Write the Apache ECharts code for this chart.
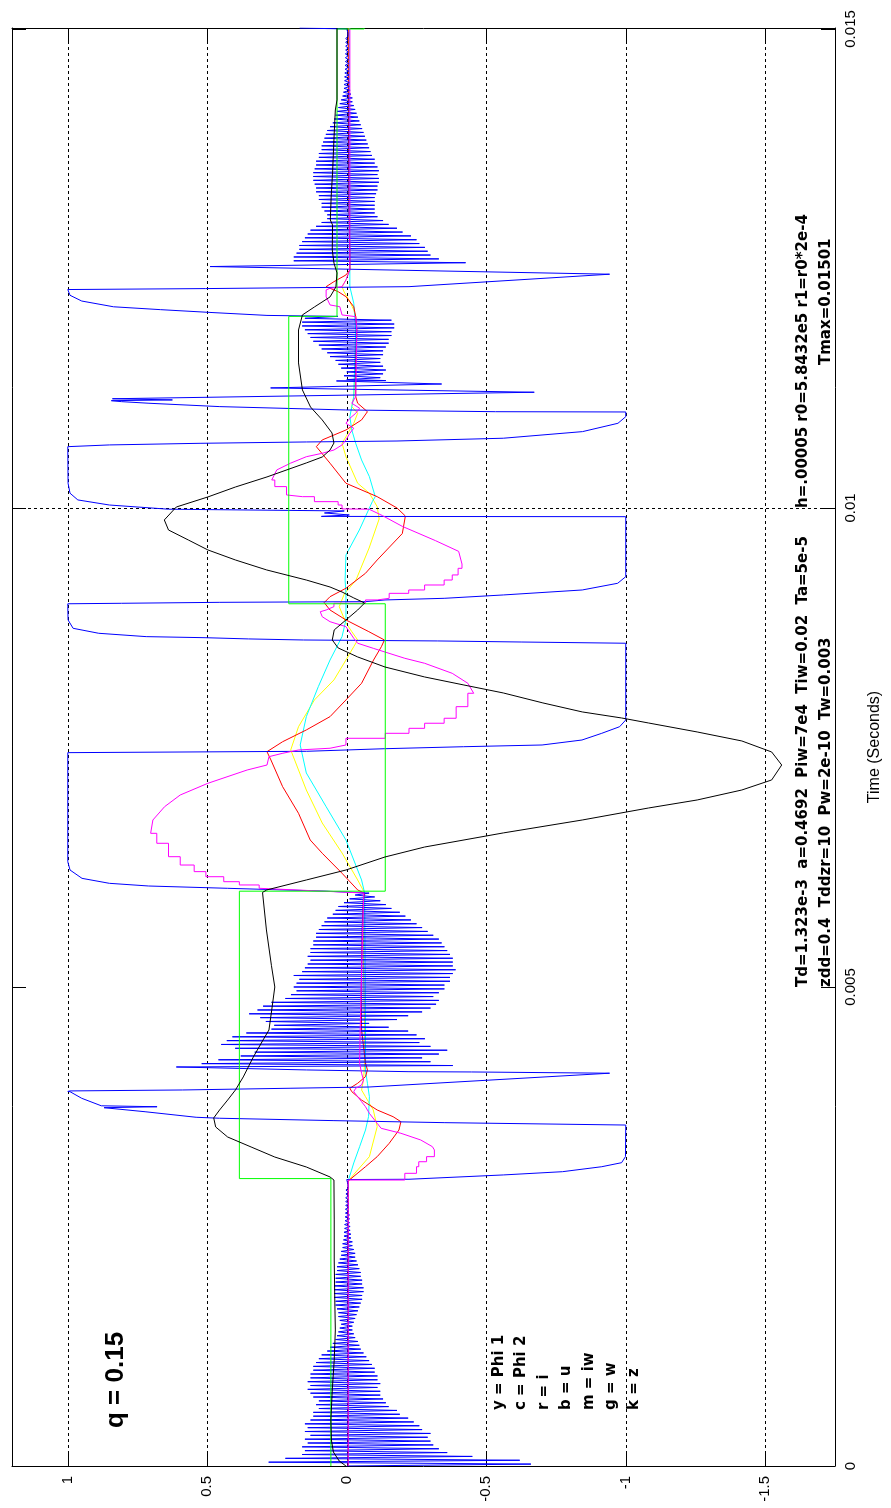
<!DOCTYPE html>
<html>
<head>
<meta charset="utf-8">
<title>Controller response, q = 0.15</title>
<script src="https://cdn.jsdelivr.net/npm/echarts@6/dist/echarts.min.js"></script>
<style>
  html, body { margin: 0; padding: 0; background: #fff; }
  #chart { width: 891px; height: 1508px; }
</style>
</head>
<body>
<div id="chart"></div>
<script>
// Time values below are in milliseconds; each pair is [time_ms, value].
const MS = 1e-3;

// tick labels
const valueTicks = [1, 0.5, 0, -0.5, -1, -1.5];
const timeTicks = [0, 0.005, 0.01, 0.015];

// y = Phi 1
const phi1 = [[0,-0.005],[2.975,-0.005],[3.09,-0.039],[3.229,-0.081],[3.542,-0.109],[3.716,-0.095],[3.855,-0.067],[3.925,-0.053],[4.029,-0.06],[4.207,-0.064],[4.551,-0.064],[5.386,-0.059],[5.981,-0.064],[6.117,-0.039],[6.399,0.017],[6.712,0.088],[7.056,0.145],[7.37,0.187],[7.474,0.201],[7.717,0.173],[7.996,0.116],[8.205,0.046],[8.413,0.003],[8.552,-0.025],[8.622,-0.039],[8.709,-0.018],[8.8,0.003],[8.97,0.027],[9.102,0.009],[9.248,-0.033],[9.582,-0.08],[9.885,-0.116],[10.014,-0.109],[10.154,-0.081],[10.258,-0.039],[10.535,0.003],[10.675,0.017],[10.744,0.003],[10.884,-0.025],[10.989,-0.039],[11.058,-0.018],[11.162,-0.025],[11.579,-0.032],[11.997,-0.032],[12.067,-0.025],[12.154,-0.011],[12.258,0.01],[12.31,0.017],[12.38,0.003],[12.484,-0.011],[13.737,-0.009],[15.01,-0.007]];

// c = Phi 2
const phi2 = [[0,-0.005],[2.975,-0.005],[3.163,-0.025],[3.333,-0.046],[3.507,-0.067],[3.646,-0.078],[3.855,-0.081],[3.995,-0.074],[4.134,-0.067],[4.551,-0.067],[5.981,-0.064],[6.117,-0.053],[6.534,0.003],[6.882,0.074],[7.234,0.145],[7.526,0.167],[7.822,0.145],[8.135,0.102],[8.413,0.06],[8.657,0.017],[8.831,0.003],[9.109,0.003],[9.248,0.006],[9.509,0.003],[9.77,-0.045],[10.069,-0.092],[10.118,-0.102],[10.327,-0.081],[10.501,-0.053],[10.675,-0.032],[10.814,-0.018],[10.953,-0.011],[11.162,-0.025],[11.858,-0.032],[12.137,-0.025],[12.31,-0.011],[12.557,-0.011],[15.01,-0.009]];

// r = i
const currentI = [[0,-0.005],[2.975,-0.005],[2.985,-0.008],[3.124,-0.067],[3.229,-0.109],[3.368,-0.152],[3.507,-0.187],[3.594,-0.194],[3.646,-0.166],[3.716,-0.109],[3.82,-0.053],[3.907,-0.018],[3.943,-0.011],[3.995,-0.039],[4.064,-0.067],[4.134,-0.074],[4.207,-0.067],[4.551,-0.053],[4.969,-0.052],[5.595,-0.055],[5.908,-0.059],[5.978,-0.064],[6.013,-0.039],[6.187,0.017],[6.396,0.088],[6.534,0.131],[6.813,0.173],[7.091,0.23],[7.37,0.272],[7.456,0.286],[7.56,0.23],[7.683,0.145],[7.822,0.06],[7.996,0.003],[8.17,-0.053],[8.413,-0.096],[8.552,-0.124],[8.622,-0.135],[8.709,-0.079],[8.831,0.003],[8.935,0.06],[9.012,0.081],[9.074,0.06],[9.162,0.003],[9.318,-0.067],[9.457,-0.109],[9.733,-0.199],[9.916,-0.21],[10.0,-0.18],[10.118,-0.109],[10.258,0.003],[10.467,0.06],[10.64,0.109],[10.71,0.088],[10.814,0.003],[10.919,-0.053],[11.005,-0.074],[11.093,-0.039],[11.162,-0.032],[11.514,-0.032],[11.858,-0.036],[11.997,-0.032],[12.101,-0.025],[12.206,0.003],[12.258,0.031],[12.31,0.074],[12.362,0.046],[12.432,0.003],[12.484,-0.011],[12.623,-0.011],[13.215,-0.007],[15.01,-0.005]];

// b = u : oscillation bursts (sampled every U_STEP ms) and rail switching
const U_STEP = 0.02;
const uIdle = { t0: 0, v: [
  0,-0.66,0.28,-0.62,0.22,-0.45,0.16,-0.36,0.15,-0.33,
  0.16,-0.31,0.14,-0.30,0.15,-0.29,0.13,-0.30,0.15,-0.27,
  0.14,-0.26,0.15,-0.24,0.13,-0.22,0.12,-0.19,0.12,-0.18,
  0.10,-0.15,0.11,-0.14,0.10,-0.13,0.12,-0.12,0.13,-0.12,
  0.14,-0.11,0.13,-0.12,0.14,-0.11,0.13,-0.11,0.13,-0.10,
  0.12,-0.10,0.12,-0.09,0.11,-0.08,0.10,-0.07,0.09,-0.06,
  0.07,-0.05,0.06,-0.045,0.05,-0.04,0.04,-0.03,0.035,-0.025,
  0.03,-0.02,0.025,-0.02,0.02,-0.025,0.025,-0.03,0.03,-0.035,
  0.03,-0.04,0.035,-0.045,0.04,-0.05,0.04,-0.055,0.045,-0.055,
  0.045,-0.06,0.045,-0.06,0.045,-0.055,0.04,-0.055,0.04,-0.05,
  0.04,-0.05,0.035,-0.045,0.035,-0.04,0.03,-0.035,0.025,-0.03,
  0.02,-0.03,0.02,-0.025,0.015,-0.02,0.015,-0.02,0.012,-0.015,
  0.01,-0.015,0.01,-0.012,0.008,-0.012,0.008,-0.01,0.006,-0.01,
  0.006,-0.01,0.005,-0.008,0.005,-0.008,0.004,-0.008,0.004,-0.006,
  0.004,-0.006,0.003,-0.006,0.003,-0.005,0.002,-0.004,0
] };
const uSwitch1 = [[2.99,0],[2.993,-0.223],[3.038,-0.561],[3.072,-0.773],[3.124,-0.914],[3.166,-0.985],[3.229,-0.999],[3.559,-1.0],[3.567,-1.0],[3.584,-0.349],[3.605,0.046],[3.63,0.456],[3.64,0.54],[3.698,0.723],[3.74,0.87],[3.75,0.68],[3.76,0.88],[3.838,0.95],[3.907,0.992],[3.91,1.0],[3.915,0.992],[3.925,0.589],[3.943,0.2],[3.956,-0.08],[4.1,-0.942],[4.113,-0.447],[4.116,-0.223],[4.134,0.144],[4.165,0.611]];
const uBurst1 = { t0: 4.18, v: [
  -0.38,0.52,-0.30,0.46,-0.27,0.38,-0.33,0.33,-0.36,0.40,
  -0.30,0.45,-0.26,0.43,-0.28,0.41,-0.25,0.36,-0.22,0.27,
  -0.15,0.26,-0.08,0.29,-0.18,0.31,-0.22,0.35,-0.27,0.32,
  -0.30,0.30,-0.32,0.27,-0.33,0.22,-0.31,0.20,-0.33,0.18,
  -0.35,0.19,-0.35,0.18,-0.37,0.17,-0.37,0.19,-0.38,0.16,
  -0.39,0.15,-0.38,0.14,-0.38,0.13,-0.38,0.14,-0.37,0.13,
  -0.36,0.13,-0.35,0.12,-0.34,0.12,-0.33,0.11,-0.31,0.11,
  -0.29,0.10,-0.27,0.09,-0.25,0.08,-0.23,0.07,-0.21,0.05,
  -0.19,0.04,-0.16,0.03,-0.14,0.01,-0.12,-0.01,-0.10,-0.03,
  -0.08
] };
const uSwitch2 = [[6.0,0.074],[6.03,0.427],[6.054,0.71],[6.082,0.851],[6.134,0.949],[6.221,0.992],[6.308,1.0],[7.446,1.0],[7.46,0.144],[7.487,-0.134],[7.508,-0.419],[7.526,-0.7],[7.578,-0.843],[7.648,-0.914],[7.717,-0.978],[7.787,-1.0],[8.588,-1.0],[8.601,-0.625],[8.612,-0.326],[8.622,0.155],[8.633,0.352],[8.646,0.508],[8.657,0.719],[8.692,0.889],[8.744,0.981],[8.831,0.999],[8.97,1.0],[9.0,1.0],[9.005,0.808],[9.015,0.455],[9.022,-0.067],[9.04,-0.137],[9.057,-0.349],[9.092,-0.561],[9.144,-0.844],[9.214,-0.971],[9.283,-1.0],[9.909,-1.0],[9.912,0.091],[9.927,-0.009],[9.948,0.08],[9.969,0.009],[9.987,0.639],[10.031,0.851],[10.084,0.964],[10.154,0.992],[10.258,0.999],[10.64,1.0],[10.658,0.851],[10.675,0.526],[10.689,0.145],[10.699,-0.18],[10.728,-0.561],[10.797,-0.845],[10.884,-0.972],[10.953,-1.0],[11.002,-1.0],[11.005,-0.533],[11.023,0.004],[11.058,0.455],[11.093,0.709],[11.11,0.808],[11.12,0.844],[11.128,0.625],[11.14,0.84],[11.208,-0.672],[11.253,0.273],[11.294,-0.34],[11.326,0.037],[11.33,-0.14]];
const uBurst2 = { t0: 11.34, v: [
  0.0,-0.12,0.01,-0.13,0.0,-0.14,0.02,-0.13,0.03,-0.12,
  0.04,-0.12,0.06,-0.13,0.07,-0.13,0.09,-0.14,0.10,-0.15,
  0.12,-0.15,0.13,-0.16,0.14,-0.16,0.15,-0.17,0.16,-0.17,
  0.16,-0.16,0.15
] };
const uSwitch3 = [[12.0,0.032],[12.01,0.286],[12.04,0.483],[12.07,0.667],[12.1,0.836],[12.16,0.95],[12.22,0.992],[12.28,1.0],[12.29,0.507],[12.31,-0.223],[12.44,-0.942],[12.52,0.49],[12.56,-0.426]];
const uBurst3 = { t0: 12.58, v: [
  0.19,-0.33,0.19,-0.30,0.18,-0.29,0.17,-0.28,0.17,-0.26,
  0.16,-0.25,0.15,-0.23,0.14,-0.20,0.13,-0.18,0.11,-0.15,
  0.09,-0.13,0.07,-0.11,0.07,-0.10,0.08,-0.10,0.09,-0.10,
  0.09,-0.10,0.10,-0.10,0.10,-0.105,0.11,-0.11,0.11,-0.11,
  0.115,-0.115,0.12,-0.115,0.12,-0.11,0.12,-0.115,0.115,-0.11,
  0.11,-0.10,0.11,-0.10,0.10,-0.09,0.10,-0.085,0.09,-0.08,
  0.09,-0.075,0.085,-0.07,0.08,-0.065,0.075,-0.06,0.07,-0.055,
  0.06,-0.05,0.05,-0.045,0.045,-0.04,0.04,-0.035,0.035,-0.03,
  0.03,-0.025,0.025,-0.02,0.02,-0.02,0.015,-0.015,0.012,-0.012,
  0.01,-0.01,0.01,-0.01,0.008,-0.008,0.008,-0.008,0.007,-0.007,
  0.006,-0.006,0.006,-0.006,0.005,-0.006,0.005,-0.005,0.005,-0.005,
  0.004,-0.005,0.004,-0.005,0.004,-0.004,0.004,-0.004,0.003,-0.004,
  0.003,0
] };
const uEnd = [[15.01,0.169]];

// m = iw
const currentIw = [[0,-0.005],[2.985,-0.005],[2.985,-0.208],[3.055,-0.25],[3.124,-0.258],[3.176,-0.286],[3.229,-0.314],[3.299,-0.321],[3.333,-0.307],[3.403,-0.265],[3.473,-0.194],[3.525,-0.123],[3.577,-0.109],[3.681,-0.081],[3.751,-0.067],[3.803,-0.053],[3.855,-0.039],[3.907,-0.025],[3.943,-0.032],[3.977,-0.053],[4.029,-0.06],[4.099,-0.053],[4.207,-0.046],[4.551,-0.048],[5.386,-0.055],[5.981,-0.061],[6.0,-0.064],[6.03,0.314],[6.065,0.385],[6.099,0.441],[6.151,0.505],[6.204,0.547],[6.273,0.597],[6.36,0.639],[6.5,0.681],[6.604,0.703],[6.743,0.695],[6.882,0.653],[7.004,0.597],[7.126,0.498],[7.265,0.357],[7.317,0.286],[7.404,0.279],[7.44,0.229],[7.474,0.173],[7.492,0.06],[7.526,0.003],[7.596,-0.138],[7.648,-0.223],[7.7,-0.279],[7.753,-0.349],[7.805,-0.392],[7.926,-0.434],[8.066,-0.455],[8.17,-0.434],[8.274,-0.378],[8.379,-0.279],[8.431,-0.208],[8.535,-0.095],[8.588,-0.039],[8.64,-0.025],[8.761,0.003],[8.813,0.06],[8.865,0.088],[8.917,0.095],[8.935,0.074],[8.97,0.046],[9.005,-0.067],[9.04,-0.109],[9.057,-0.152],[9.109,-0.222],[9.144,-0.279],[9.196,-0.349],[9.248,-0.378],[9.301,-0.399],[9.37,-0.413],[9.415,-0.419],[9.547,-0.401],[9.659,-0.318],[9.808,-0.199],[9.92,-0.128],[9.987,-0.08],[9.99,0.017],[10.031,0.031],[10.066,0.116],[10.118,0.159],[10.136,0.216],[10.223,0.258],[10.292,0.269],[10.397,0.251],[10.467,0.202],[10.535,0.145],[10.571,0.088],[10.605,0.046],[10.658,0.017],[10.71,0.003],[10.78,-0.011],[10.832,-0.025],[10.884,0.003],[10.936,-0.011],[10.988,-0.032],[11.041,-0.046],[11.093,-0.018],[11.162,-0.032],[11.858,-0.036],[11.997,-0.032],[12.015,0.017],[12.101,0.025],[12.119,0.06],[12.206,0.074],[12.276,0.074],[12.293,0.06],[12.31,0.017],[12.38,0.003],[12.484,-0.011],[15.01,-0.011]];
// time windows (ms) where iw is drawn as a held staircase
const iwHeldSpans = [[2.985,3.3],[6.03,6.61],[7.526,8.07],[8.97,9.42],[9.99,10.3]];

// g = w (step reference)
const refW = [[0,0.057],[3.0,0.057],[3.0,0.385],[6.0,0.385],[6.0,-0.138],[9.0,-0.138],[9.0,0.208],[12.0,0.208],[12.0,0.035],[15.0,0.035],[15.0,-0.062],[15.01,-0.062]];

// k = z
const stateZ = [[0,0.003],[0.052,0.027],[0.146,0.048],[0.271,0.055],[0.48,0.057],[0.793,0.052],[1.106,0.045],[1.42,0.041],[1.733,0.043],[2.15,0.045],[2.568,0.045],[2.985,0.046],[3.017,0.06],[3.121,0.145],[3.225,0.258],[3.33,0.343],[3.434,0.427],[3.539,0.47],[3.633,0.477],[3.716,0.456],[3.82,0.427],[3.925,0.399],[4.061,0.371],[4.269,0.335],[4.447,0.3],[4.551,0.279],[4.76,0.269],[5.0,0.258],[5.222,0.27],[5.595,0.288],[5.987,0.302],[6.013,0.287],[6.117,0.145],[6.221,0.003],[6.357,-0.137],[6.461,-0.279],[6.608,-0.561],[6.743,-0.844],[6.868,-1.081],[6.952,-1.256],[7.056,-1.416],[7.161,-1.523],[7.317,-1.559],[7.453,-1.523],[7.568,-1.416],[7.662,-1.256],[7.756,-1.081],[7.808,-0.985],[7.871,-0.844],[7.965,-0.703],[8.069,-0.561],[8.152,-0.42],[8.236,-0.279],[8.34,-0.137],[8.445,-0.039],[8.539,0.031],[8.622,0.052],[8.727,0.045],[8.831,0.003],[8.935,-0.039],[9.008,-0.064],[9.061,-0.025],[9.123,0.017],[9.175,0.06],[9.248,0.145],[9.353,0.287],[9.457,0.399],[9.562,0.498],[9.666,0.568],[9.77,0.639],[9.875,0.654],[10.01,0.611],[10.115,0.498],[10.219,0.399],[10.324,0.286],[10.47,0.145],[10.532,0.088],[10.605,0.06],[10.678,0.046],[10.783,0.053],[10.919,0.088],[11.054,0.13],[11.232,0.159],[11.514,0.173],[11.858,0.173],[12.015,0.159],[12.098,0.116],[12.203,0.06],[12.307,0.039],[12.453,0.035],[12.557,0.046],[12.693,0.052],[12.954,0.051],[13.006,0.059],[13.246,0.056],[13.497,0.051],[13.914,0.045],[14.154,0.041],[14.259,0.035],[15.01,0.035]];

const legendLines = ['y = Phi 1', 'c = Phi 2', 'r = i', 'b = u', 'm = iw', 'g = w', 'k = z'];
const paramLine1 = 'Td=1.323e-3  a=0.4692  Piw=7e4  Tiw=0.02  Ta=5e-5';
const paramLine2 = 'zdd=0.4  Tddzr=10  Pw=2e-10  Tw=0.003';
const stepLine1 = 'h=.00005 r0=5.8432e5 r1=r0*2e-4';
const stepLine2 = 'Tmax=0.01501';
const caseLabel = 'q = 0.15';

// [time_ms, value] -> [value, time_s] (value runs across, time runs up)
const toXY = arr => arr.map(([t, v]) => [v, t * MS]);

// expand a burst of evenly spaced samples into [time_ms, value] pairs
const sampled = b => b.v.map((v, i) => [b.t0 + i * U_STEP, v]);

// staircase rendering inside the given windows: a value is kept until the next point
function heldWithin(points, spans) {
  const inSpan = (a, b) => spans.some(([s, e]) => a >= s && b <= e);
  const out = [];
  points.forEach(([t, v], i) => {
    out.push([t, v]);
    const next = points[i + 1];
    if (next && next[0] > t && inSpan(t, next[0])) out.push([next[0], v]);
  });
  return out;
}

const controlU = [].concat(sampled(uIdle), uSwitch1, sampled(uBurst1), uSwitch2,
                           sampled(uBurst2), uSwitch3, sampled(uBurst3), uEnd);

const chart = echarts.init(document.getElementById('chart'), null, { renderer: 'canvas' });

const V_MIN = -1.75, V_MAX = 1.2, T_MIN = 0, T_MAX = 0.01501;
const axisFont = { fontFamily: '"Liberation Sans", Arial, sans-serif', fontSize: 15, color: '#000' };
const nameFont = { fontFamily: '"Liberation Sans", Arial, sans-serif', fontSize: 16, color: '#000' };
const textFont = '"DejaVu Sans", "Liberation Sans", sans-serif';

function curve(name, data, color, z) {
  return {
    name, type: 'line', data: toXY(data), showSymbol: false, symbol: 'none',
    lineStyle: { color, width: 1 }, z, silent: true, animation: false
  };
}

function rotText(x, y, text, font) {
  return {
    type: 'text', x, y, rotation: Math.PI / 2, silent: true,
    style: { text, font, fill: '#000', align: 'left', verticalAlign: 'middle',
             textAlign: 'left', textVerticalAlign: 'middle' }
  };
}

const graphics = [
  rotText(116, 1428, caseLabel, 'bold 26px "Liberation Sans", Arial, sans-serif'),
  rotText(803, 987, paramLine1, 'bold 15px ' + textFont),
  rotText(826, 987, paramLine2, 'bold 15px ' + textFont),
  rotText(803, 508, stepLine1, 'bold 15px ' + textFont),
  rotText(826, 365, stepLine2, 'bold 15px ' + textFont)
];
legendLines.forEach((s, i) => graphics.push(rotText(499 + i * 22.5, 1410, s, 'bold 15px ' + textFont)));

const option = {
  animation: false,
  backgroundColor: '#fff',
  grid: { left: 12, right: 51, top: 28, bottom: 42, containLabel: false },
  xAxis: [
    {
      type: 'value', min: V_MIN, max: V_MAX, inverse: true, position: 'bottom',
      axisLine: { show: true, onZero: false, lineStyle: { color: '#000', width: 1 } },
      axisTick: { show: true, inside: true, length: 14, customValues: valueTicks, lineStyle: { color: '#000' } },
      axisLabel: Object.assign({ rotate: 90, margin: 10, customValues: valueTicks }, axisFont),
      splitLine: { show: false }
    },
    {
      type: 'value', min: V_MIN, max: V_MAX, inverse: true, position: 'top',
      axisLine: { show: true, onZero: false, lineStyle: { color: '#000', width: 1 } },
      axisTick: { show: true, inside: true, length: 14, customValues: valueTicks, lineStyle: { color: '#000' } },
      axisLabel: { show: false },
      splitLine: { show: false }
    }
  ],
  yAxis: [
    {
      type: 'value', min: T_MIN, max: T_MAX, interval: 0.005, position: 'right',
      name: 'Time (Seconds)', nameLocation: 'middle', nameRotate: 90, nameGap: 32,
      nameTextStyle: nameFont,
      axisLine: { show: true, onZero: false, lineStyle: { color: '#000', width: 1 } },
      axisTick: { show: true, inside: true, length: 14, customValues: timeTicks, lineStyle: { color: '#000' } },
      axisLabel: Object.assign({ rotate: 90, margin: 8, customValues: timeTicks }, axisFont),
      splitLine: { show: false }
    },
    {
      type: 'value', min: T_MIN, max: T_MAX, interval: 0.005, position: 'left',
      axisLine: { show: true, onZero: false, lineStyle: { color: '#000', width: 1 } },
      axisTick: { show: true, inside: true, length: 14, customValues: timeTicks, lineStyle: { color: '#000' } },
      axisLabel: { show: false },
      splitLine: { show: false }
    }
  ],
  series: [
    {
      name: 'grid', type: 'line', data: [[0, 0]], showSymbol: false, symbol: 'none',
      lineStyle: { opacity: 0 }, z: 1, silent: true,
      markLine: {
        silent: true, symbol: ['none', 'none'], animation: false,
        label: { show: false },
        lineStyle: { color: '#000', width: 1, type: [3, 3] },
        data: valueTicks.map(v => ({ xAxis: v })).concat(timeTicks.slice(1).map(t => ({ yAxis: t })))
      }
    },
    curve('y = Phi 1', phi1, '#ffff00', 2),
    curve('c = Phi 2', phi2, '#00ffff', 3),
    curve('r = i', currentI, '#ff0000', 4),
    curve('b = u', controlU, '#0000ff', 5),
    curve('m = iw', heldWithin(currentIw, iwHeldSpans), '#ff00ff', 6),
    curve('g = w', refW, '#00ff00', 7),
    curve('k = z', stateZ, '#000000', 8)
  ],
  graphic: { elements: graphics }
};

chart.setOption(option);
</script>
</body>
</html>
